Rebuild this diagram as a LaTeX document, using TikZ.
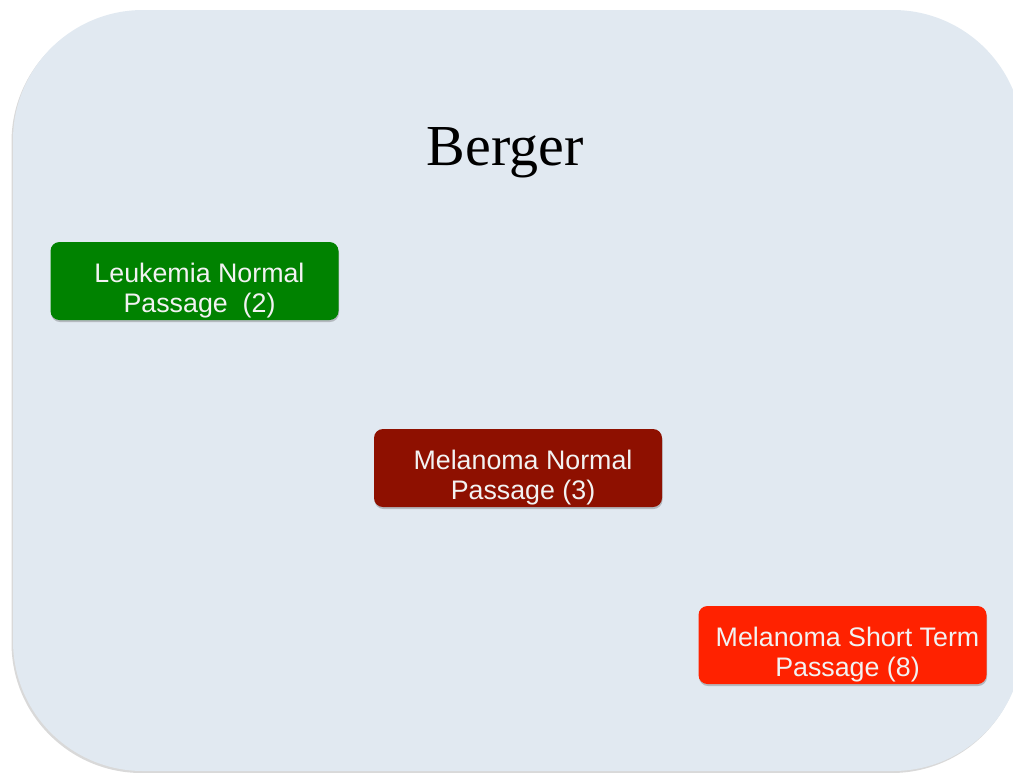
\documentclass[tikz,border=0pt]{standalone}
\usepackage{fontspec}
\setmainfont{Liberation Sans}
\newfontfamily\titlefont{Liberation Serif}
\usetikzlibrary{shadows,calc}
\definecolor{panelbg}{RGB}{225,233,241}
\definecolor{leukgreen}{RGB}{0,130,0}
\definecolor{meladark}{RGB}{142,16,0}
\definecolor{melared}{RGB}{255,34,0}
\definecolor{boxtext}{RGB}{242,242,242}
\tikzset{
  panel/.style={fill=panelbg, rounded corners=130pt,
    drop shadow={shadow xshift=-1.5pt, shadow yshift=-2pt, opacity=0.25, fill=black!60}},
  groupbox/.style={rectangle, rounded corners=9pt, minimum width=288pt, minimum height=78pt,
    inner sep=0pt, draw=none,
    drop shadow={shadow xshift=0.5pt, shadow yshift=-2pt, opacity=0.3, fill=black!70}},
  boxlabel/.style={text=boxtext, align=center, inner sep=0pt,
    font=\fontsize{26.8pt}{30pt}\selectfont},
}
\begin{document}
\begin{tikzpicture}[x=1pt,y=-1pt]
  \useasboundingbox (0,0) rectangle (1013,772);
  % background panel
  \path[panel] (13,10) rectangle (1023,771);
  % title
  \node[anchor=base, inner sep=0pt, font=\titlefont\fontsize{58pt}{62pt}\selectfont] (title) at (505,165) {Berger};
  % groups
  \node[groupbox, fill=leukgreen] (leuk) at (194.5,281) {};
  \node[boxlabel] (leuktext) at ($(leuk.center)+(5,10)$) {Leukemia Normal\\Passage\ \ (2)};
  \node[groupbox, fill=meladark] (melnorm) at (518,468) {};
  \node[boxlabel] (melnormtext) at ($(melnorm.center)+(5,10)$) {Melanoma Normal\\Passage (3)};
  \node[groupbox, fill=melared] (melshort) at (842.5,645) {};
  \node[boxlabel] (melshorttext) at ($(melshort.center)+(5,10)$) {Melanoma Short Term\\Passage (8)};
\end{tikzpicture}
\end{document}
